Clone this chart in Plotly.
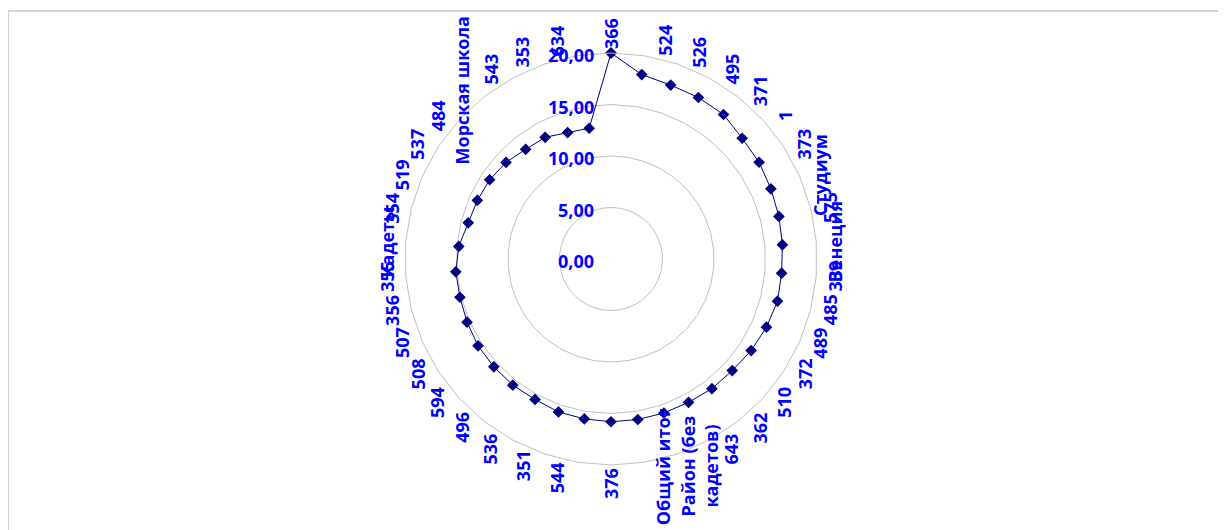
import math
import plotly.graph_objects as go

# ---- data ----
categories = ["366", "524", "526", "495", "371", "1", "373", "Студиум", "575", "Венеция",
              "339", "485", "489", "372", "510", "362", "643", "Район (без кадетов)",
              "Общий итог", "376", "544", "351", "536", "496", "594", "508", "507", "356",
              "355", "Кадеты", "354", "519", "537", "484", "Морская школа", "543", "353", "634"]
values = [20.00, 18.15, 17.85, 17.83, 17.78, 17.31, 17.17, 16.95, 16.82, 16.70,
          16.62, 16.68, 16.48, 16.25, 16.00, 15.95, 15.82, 15.81, 15.80, 15.80,
          15.74, 15.70, 15.50, 15.52, 15.46, 15.42, 15.26, 15.13, 15.12, 14.83,
          14.30, 14.17, 14.07, 13.85, 13.49, 13.43, 12.98, 12.87]
radial_ticks = [0, 5, 10, 15, 20]
radial_max = 20

# ---- layout constants (pixels inside the plot) ----
W, H = 1226, 530
CX, CY, R = 603, 251, 206          # polar centre and radius
BLUE = "#0000FF"
NAVY = "#000080"
FONT = "Open Sans"
FS = 18

dom_x = [(CX - R) / W, (CX + R) / W]
dom_y = [(H - CY - R) / H, (H - CY + R) / H]

fig = go.Figure()
fig.add_trace(go.Scatterpolar(
    r=values + values[:1],
    theta=categories + categories[:1],
    mode="lines+markers",
    line=dict(color=NAVY, width=1),
    marker=dict(symbol="diamond", size=9, color=NAVY),
    showlegend=False,
    hoverinfo="skip",
))

label_font = dict(family=FONT, size=FS, color=BLUE, weight="bold")


def wrap(t):
    if len(t) > 15 and " " in t:
        i = t.rfind(" ")
        return t[:i] + "<br>" + t[i + 1:]
    return t


annotations = []
n = len(categories)
RL = 225
BOTTOM_LIMIT = 511
for i, c in enumerate(categories):
    th = 2 * math.pi * i / n
    s, co = math.sin(th), math.cos(th)
    # labels are pushed slightly away from the vertical axis (as in the original)
    delta = 0 if abs(s) < 0.05 else math.radians(4.5) * math.copysign(1, s) * co
    a = th + delta
    txt = wrap(c)
    longest = max(len(p) for p in txt.split("<br>"))
    half_len = longest * 0.58 * FS / 2
    px = CX + RL * math.sin(a)
    py = CY - RL * math.cos(a)
    if py + half_len > BOTTOM_LIMIT:
        new_py = BOTTOM_LIMIT - half_len
        px = CX + (new_py - CY) * math.tan(math.pi - a)
        py = new_py
    annotations.append(dict(
        x=px / W, y=1 - py / H, xref="paper", yref="paper",
        text=txt, showarrow=False, textangle=-90,
        xanchor="center", yanchor="middle", font=label_font,
    ))

# radial value labels (left of the vertical axis)
for v in radial_ticks:
    py = CY - v * R / radial_max + 2
    annotations.append(dict(
        x=(CX - 15) / W, y=1 - py / H, xref="paper", yref="paper",
        text=f"{v:.2f}".replace(".", ","), showarrow=False,
        xanchor="right", yanchor="middle", font=label_font,
    ))

fig.update_layout(
    width=W, height=H,
    margin=dict(l=0, r=0, t=0, b=0),
    paper_bgcolor="white", plot_bgcolor="white",
    separators=", ",
    polar=dict(
        domain=dict(x=dom_x, y=dom_y),
        bgcolor="white",
        gridshape="linear",
        radialaxis=dict(
            range=[0, radial_max], tickvals=radial_ticks,
            showticklabels=False, angle=90,
            showline=False, ticks="", gridcolor="#C0C0C0", gridwidth=1,
        ),
        angularaxis=dict(
            type="category", categoryarray=categories, categoryorder="array",
            direction="clockwise", rotation=90,
            showgrid=False, showticklabels=False, ticks="",
            showline=True, linecolor="#C0C0C0", linewidth=1,
        ),
    ),
    annotations=annotations,
    shapes=[dict(type="rect", xref="paper", yref="paper",
                 x0=0, x1=1.02, y0=-0.02, y1=1 - 3 / H,
                 line=dict(color="#C8C8C8", width=1.5))],
)

fig.write_html("out.html")
